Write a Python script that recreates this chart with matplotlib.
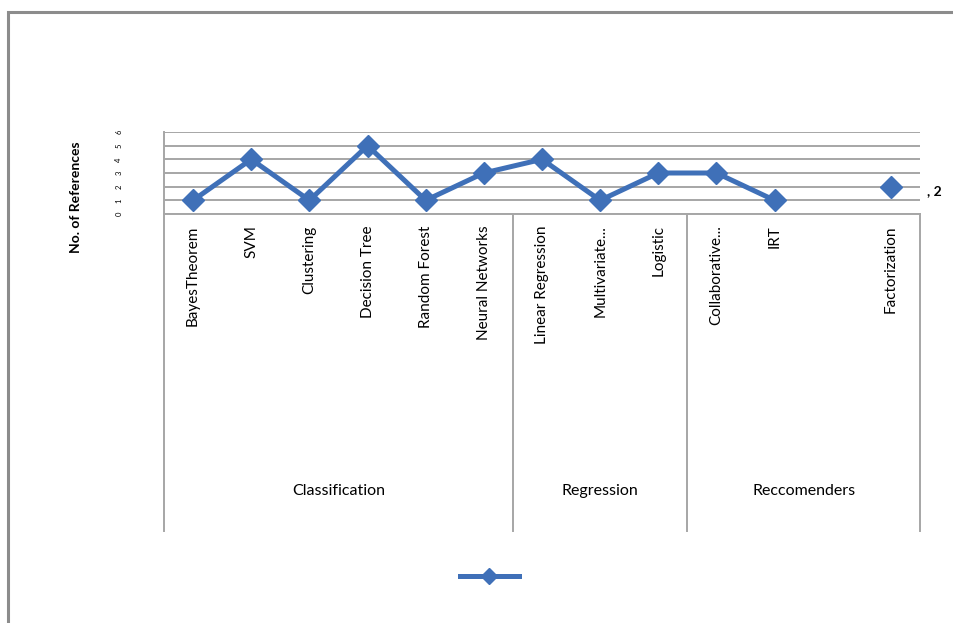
import numpy as np
import matplotlib
matplotlib.use("Agg")
import matplotlib.pyplot as plt
from matplotlib.lines import Line2D
from matplotlib.patches import Rectangle

# categories (one empty slot between IRT and Factorization)
methods = ["BayesTheorem", "SVM", "Clustering", "Decision Tree", "Random Forest",
           "Neural Networks", "Linear Regression", "Multivariate...", "Logistic",
           "Collaborative...", "IRT", "", "Factorization"]
refs = [1, 4, 1, 5, 1, 3, 4, 1, 3, 3, 1, np.nan, 2]
groups = ["Classification", "Regression", "Reccomenders"]
group_sizes = [6, 3, 4]
y_ticks = [0, 1, 2, 3, 4, 5, 6]

BLUE = "#3f70b8"
GRID = "#a6a6a6"

plt.rcParams["font.family"] = ["Lato", "DejaVu Sans"]

fig = plt.figure(figsize=(9.54, 6.23), dpi=100)
ax = fig.add_axes([164 / 954, 1 - 214 / 623, 756 / 954, 82 / 623])

x = np.arange(len(methods))
line, = ax.plot(x, refs, color=BLUE, lw=3.6, marker="D", markersize=11,
                markeredgecolor=BLUE, zorder=3)

ax.set_xlim(-0.5, len(methods) - 0.5)
ax.set_ylim(0, 6)
ax.set_yticks(y_ticks)
ax.set_yticklabels([str(v) for v in y_ticks], rotation=90, fontsize=5.5,
                   va="center")
ax.tick_params(axis="y", length=0, pad=30)
ax.set_xticks([])
ax.grid(axis="y", color=GRID, lw=1.4)
ax.set_axisbelow(True)
for s in ["top", "right"]:
    ax.spines[s].set_visible(False)
for s in ["left", "bottom"]:
    ax.spines[s].set_color(GRID)
    ax.spines[s].set_linewidth(1.4)

# data label on the last point
ax.annotate(", 2", (x[-1], refs[-1]), xytext=(26, -3), textcoords="offset points",
            fontsize=10, fontweight="bold", va="center")

ax.set_ylabel("No. of References", fontsize=10, fontweight="bold")
ax.yaxis.set_label_coords(-0.108, 0.2)

# category labels
trans = ax.get_xaxis_transform()
for xi, name in zip(x, methods):
    ax.text(xi, -0.14, name, transform=trans, rotation=90, ha="center",
            va="top", fontsize=11, clip_on=False)

# group labels and separators
bottom_y = -3.87
start = 0
bounds = [-0.5]
for g, n in zip(groups, group_sizes):
    mid = start + (n - 1) / 2
    ax.text(mid, -3.38, g, transform=trans, ha="center", va="center",
            fontsize=11.5)
    start += n
    bounds.append(start - 0.5)
for b in bounds:
    ax.add_line(Line2D([b, b], [0, bottom_y], transform=trans, color=GRID,
                       lw=1.4, clip_on=False))

# legend with no text
fig.legend(handles=[line], labels=[""], loc="center",
           bbox_to_anchor=(0.513, 1 - 577 / 623), frameon=False,
           handlelength=4.2, handletextpad=0, numpoints=1, markerscale=0.75)

# outer chart frame
fig.add_artist(Rectangle((8 / 954, -0.1), 1.0, 1 - 12 / 623 + 0.1,
                         transform=fig.transFigure, fill=False,
                         edgecolor="#8c8c8c", lw=2.2))

fig.savefig("out.png", dpi=100)
